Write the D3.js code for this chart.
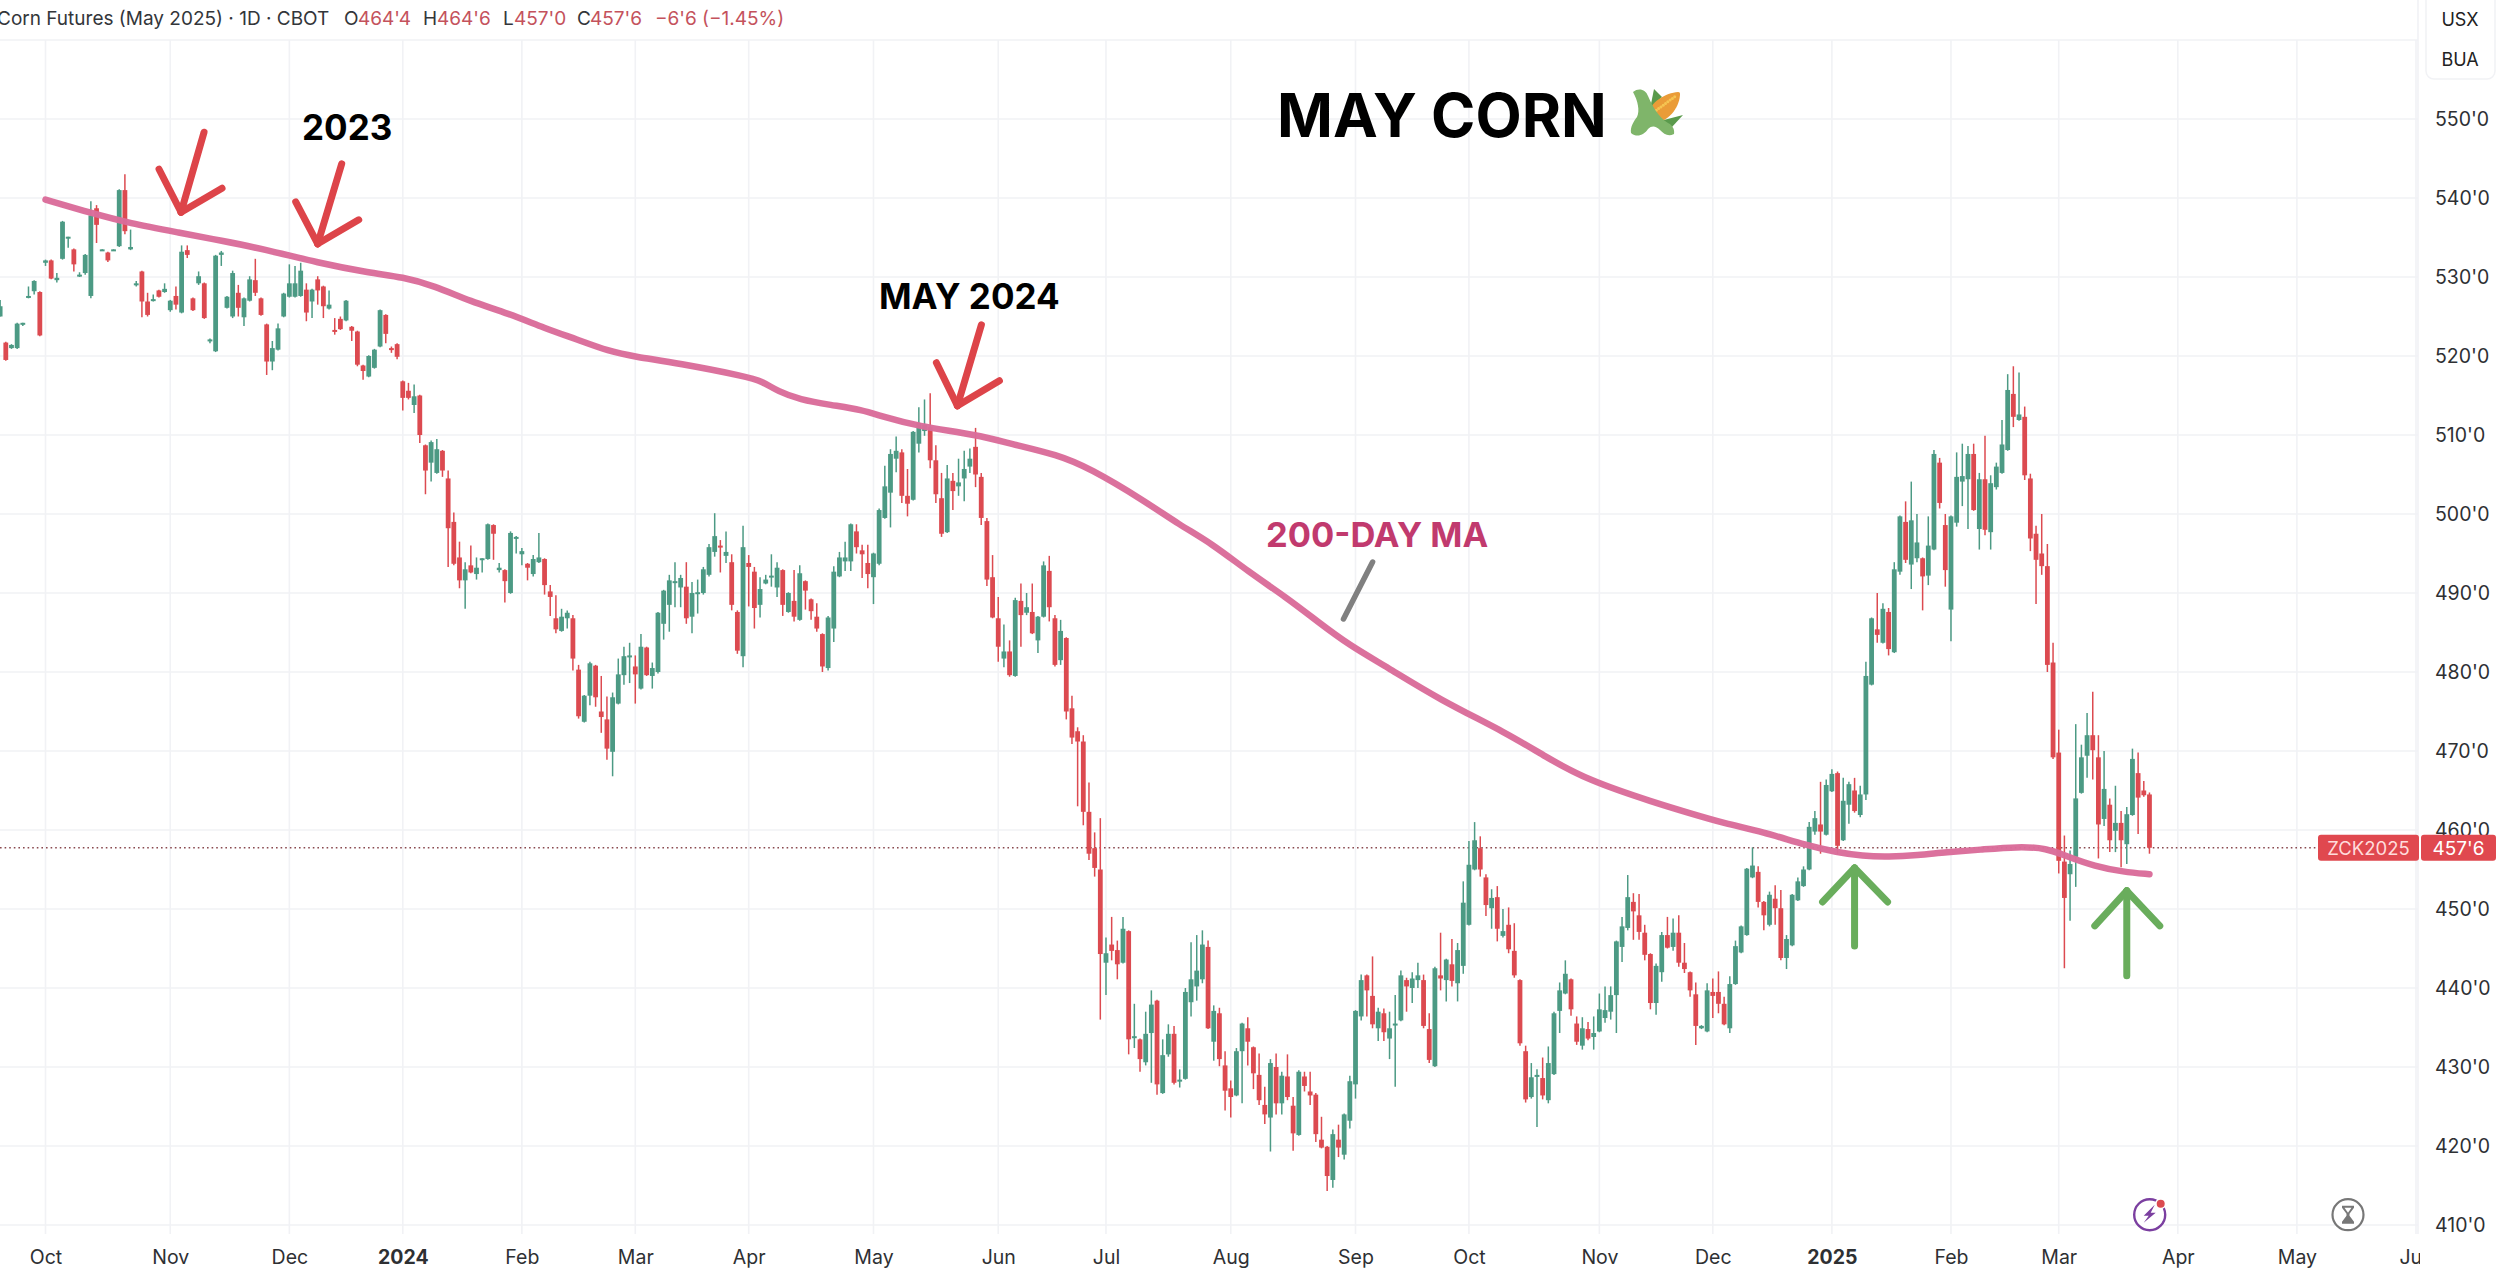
<!DOCTYPE html>
<html>
<head>
<meta charset="utf-8">
<script src="https://cdn.jsdelivr.net/npm/d3@7"></script>
<style>
  html, body { margin: 0; padding: 0; background: #fff; }
  svg { display: block; }
  text { font-family: Inter, "Noto Sans", sans-serif; }
</style>
</head>
<body>
<div id="chart"></div>
<script>
// Candles by month, each row is [open, high, low, close]
var sep23 = [[525,527.1,525,526.3],[521.7,521.8,519.4,519.5],[521,521.5,520.9,521.4],[521,524.2,520.9,524.1],[524,524.2,523.8,524.2],[527.4,528.8,527.3,527.6],[528.2,529.6,527.8,529.5],[528.1,528.2,522.5,522.6]];
var oct23 = [[531.8,532.2,531.4,532.1],[532.1,532.2,529.7,529.8],[529.6,530.5,529.3,529.9],[532.3,537.1,532.2,537],[534.9,535.1,533.7,535.1],[533.5,533.6,530.7,531.6],[530.1,530.6,530,530.3],[530.5,532.9,530.3,532.8],[527.6,539.6,527.3,537.8],[538.7,539.1,534.3,536.6],[533.4,533.5,533.3,533.5],[533.1,533.2,531.9,532.1],[533.4,533.5,533.3,533.5],[533.9,541.1,533.8,541],[541,543,535.4,535.8],[533.5,536,533.4,533.8],[529,529.5,528.8,529.2],[530.7,530.8,524.9,526.9],[526.9,528,525,525.2],[527,527.8,526.9,527.2],[528.3,528.4,527.4,527.5],[528.1,529.2,528,528.5]];
var nov23 = [[525.8,527.1,525.6,527],[527.6,528.8,525.9,526.5],[525.5,534,525.4,533.2],[533.4,534,532.4,532.8],[527.3,527.4,525.7,525.8],[529.2,530.7,529,530.1],[529.2,529.3,524.7,524.8],[522,522.2,521.6,522.1],[520.6,532.8,520.5,532.7],[532.8,533.3,531.4,533.1],[526.1,527.6,526,527.5],[525,530.8,524.8,530.5],[528,529,525,526.1],[524.9,527.4,523.8,527.3],[527,530.1,526.9,529.7],[529.6,532.3,527.6,528],[527.3,527.4,525.1,525.2],[524,524.1,517.6,519.3],[519.3,521.9,518.2,521],[520.8,524.1,520.7,523.5],[525,528,524.9,527.9]];
var dec23 = [[527.5,531.6,527.4,529.2],[527.5,531.4,527.4,529.2],[527.6,531.8,527.5,530.8],[528.4,529.2,524.4,525.5],[526.9,528.5,524.8,528.4],[529.7,530.1,526.5,528.3],[528.8,528.9,524.8,526.3],[526,528.3,525.9,526.5],[523.3,524.8,522.7,523.1],[524.7,525,523.3,523.4],[524.5,527.1,524.4,527],[523.7,523.8,521.9,523.2],[523.1,523.2,518.7,518.9],[518.8,518.9,517,518.1],[517.4,520.1,517.3,520],[518.5,520.9,518.4,520.8],[521.2,525.9,521.1,525.8],[525.2,525.3,521.6,522.8],[521,521.2,520.4,520.9],[521.5,521.6,519.6,519.9]];
var jan24 = [[516.8,516.9,513.1,514.7],[515.6,516.6,514.5,514.7],[513.8,516.4,512.8,514.9],[515,515.1,509,510],[508.7,508.8,502.5,505.5],[506.5,509.3,504.1,509.1],[505.2,509.5,505.1,508.2],[508,508.1,504.7,505.5],[504.5,505.5,493.3,498.2],[499,500.2,493.5,493.7],[494.5,496.5,490.6,491.6],[491.6,493.9,488,493],[493.5,496,492.5,492.6],[492.4,494.5,491.7,493.2],[494.2,494.4,492.6,494.4],[494.3,498.8,494.2,498.7],[498.6,498.7,494.2,497.5],[492.9,493.8,492.6,493.2],[492.9,493,488.8,491.5],[490,497.8,489.9,497.6],[497,497.2,495,497.1]];
var feb24 = [[494.9,495.7,493.5,495.3],[493.7,493.8,491.6,493.2],[492.4,494.8,492.1,494.3],[493.9,497.6,493.8,494.5],[494.3,494.4,489.8,491],[490.2,491,487.1,489.5],[486.8,489.7,484.9,485.4],[485.2,488,485.1,487],[486.8,487.8,485.5,487.5],[486.8,487.2,480.2,481.7],[480.3,480.9,474.1,474.4],[473.7,477.1,473.6,477],[477,481.3,475.8,481.1],[480.8,480.9,475.6,476.8],[475,479.5,472.3,474.3],[474,476.9,468.9,470.3],[469.9,477.4,466.8,476.8],[476,481.7,475.9,479.7],[479.6,483.2,478.4,482],[482,483.7,478.6,482.1]];
var mar24 = [[480.7,482.1,476,479.7],[477.9,484.8,477.8,483.2],[483.1,483.2,479.5,479.6],[479.5,481.2,477.9,480.5],[480,487.6,479.8,487.5],[486.1,490.4,484.1,490.3],[488.5,492.3,485.1,491.6],[491.4,493.9,488.2,491.5],[490.7,492.3,488.2,491.9],[490.8,493.9,486.1,486.8],[487,491.4,484.9,490],[490,491.7,487.4,490.1],[490,493.3,489.8,493],[492.3,496.2,492.1,495.8],[495.2,500.1,494.6,497.2],[496,496.7,492.6,495.8],[494.7,497.8,493.8,495.2],[493.9,494.9,487.8,488.5],[487.6,487.8,482.3,482.7],[482,498.5,480.6,495.8]];
var apr24 = [[493.8,494.8,488.3,493.3],[492.7,493.3,485.5,488.1],[488.5,492,486.9,490.5],[491.2,492.3,491.1,491.7],[492,494.9,490.8,492.2],[490.7,493.9,489.5,493.2],[492.9,493,487.1,488.5],[487.6,490.1,487.5,490],[489,492.9,486.4,487],[486.6,493.5,486.5,492.5],[491.5,491.6,487.9,490.3],[489.2,489.3,486.6,487.7],[487,488.7,485.1,485.5],[484.8,484.9,480,480.7],[480.5,487.1,480.2,486.9],[485.5,493.4,483.8,492.7],[492.1,495.2,492,494.5],[494,496.5,492.8,494.5],[494,498.8,492.8,498.7],[497.8,498.7,495,495.8],[495.4,496.1,491.9,494.9],[493.8,496.1,490.6,492.4]];
var may24 = [[492,495.1,488.6,495],[493.7,500.7,493.5,500.5],[499.5,506.1,499.4,503.5],[502.7,508.2,498.3,507.6],[507,509.8,505.3,508],[507.8,508.2,501.4,502.3],[502.3,505.7,499.7,501.3],[501.8,510.5,501.7,510.4],[508.9,513.5,507.8,511.5],[510.5,514.5,509.9,511.3],[511,515.3,505.8,506.8],[506.8,508.7,501.4,502.5],[502,505.2,497.1,497.5],[497.7,506.2,497.6,504.5],[504.2,505.2,500.5,502.9],[503.5,507,502.3,504],[504.5,508,501.6,505.7],[506,508.3,505.2,507],[508.5,510.9,503.4,505],[504.7,505.2,498.6,499.5],[499.1,499.5,490.9,491.7],[492,494.8,486.8,486.9]];
var jun24 = [[486.8,489.5,481.3,483.2],[481.7,486,480.6,482.6],[482.6,484,479.4,479.6],[479.5,489.4,479.4,489.1],[489,491.2,483.2,487.2],[487.5,490,487.2,488.2],[487.6,491.2,484.8,484.9],[484,487.1,482.4,487],[487,494,486.9,493.5],[492.8,494.7,486.4,488.2],[486.8,487.2,480.7,480.9],[481.5,486.6,480.9,485.2],[484.3,484.4,474,475],[475.4,477,470.9,471.7],[472.5,473,463,471.2],[471.2,472,460.6,462.3],[462.3,466,456.2,457],[457.7,459.7,454.1,455.2],[455,461.5,436,444.3]];
var jul24 = [[443.2,446.4,439.1,444.4],[445.5,449,443.5,444.7],[444.8,446,441.1,443],[443.2,449,443.1,447.5],[447.2,447.3,431.6,433.5],[433.7,438,432.4,433.9],[433.5,433.6,429.4,431],[430.6,437,430.2,434.2],[434.3,439.7,428,437.9],[438.4,438.5,426.5,427.8],[426.7,433.5,426.6,431.5],[431.6,435.4,431.3,434.2],[434.2,435.2,427.8,428],[428.2,429.7,427.4,428.4],[428.5,440,428.4,439.5],[438.2,445.8,436.4,441.1],[440.2,446.7,438.4,442.2],[441.1,447.3,440.6,445.5],[445.2,446,434.8,434.9],[433.2,437.8,430.8,437.1],[436.8,437.5,430.1,431],[430.2,432,424.5,427]];
var aug24 = [[427.3,428.3,423.6,426.2],[426.4,432.4,426.3,432],[432,435.6,425.4,435.5],[434.9,436.3,430.2,433.2],[432.5,432.6,427.2,429.2],[429,431.7,425.2,425.8],[425.2,427.5,422.8,424],[423.6,431,419.3,430.5],[430,431.7,424,425.4],[425.4,429.4,424,428.9],[428.8,431.6,425.8,426.2],[425.1,426.2,419.4,421.6],[421.4,429.6,421.3,429.4],[428.8,429.4,426.9,427.6],[426.9,429.4,425.2,426.4],[426.5,426.7,420.5,421.5],[420.8,423.7,419.7,419.8],[419.9,420,414.3,416.2],[415.7,422.1,414.7,421.5],[420.8,422.7,418.6,419.8],[418.9,424.1,418.3,424],[423.2,428.9,422.2,428.2]];
var sep24 = [[427.8,437.2,426,437.1],[436.4,441.7,435.9,441],[441.6,441.7,436.4,439.7],[439,444,434.9,435.4],[434.9,437.5,433.3,437],[436.8,437.4,433.3,434.4],[433.6,437,431,434.9],[435.3,439.1,427.5,435.5],[435.9,442.2,435.8,441.6],[441,441.3,437,440.2],[440,442,438.1,441.2],[441,443.2,440,441.6],[441,441.7,434.9,435.2],[434.8,436.8,430.5,430.9],[430.1,442.7,430,442.5],[441.6,447,439.7,441.2],[441,443.7,438.3,443.6],[443,446.2,440.2,440.9],[440.6,445.7,438.3,444.8],[442.8,453.5,441.8,450.8]];
var oct24 = [[448,458.6,447.9,455.6],[455,461,454.9,458.7],[457.7,459.2,454.1,455],[454,454.4,449.1,450.5],[450.1,452.5,447.5,451.4],[451.5,452.9,445.9,447.5],[446.6,450,446.4,447.2],[448,450.2,444.4,444.9],[444.7,448.2,441.3,441.6],[441,441.1,432.7,433],[432,432.7,425.5,425.9],[426.2,430.5,426,428.7],[428.8,429.7,422.4,429],[428.6,431.2,425.9,426.4],[425.8,432.6,425.4,430.5],[429.1,437,429,436.8],[437.1,440.7,434.3,439.7],[439.3,443.5,439.2,441.8],[441.1,441.2,436.5,437.3],[435.5,436.4,432.8,433.2],[432.7,436.3,432.2,434.9],[434.8,435.7,433.4,433.6],[433.8,436.4,432.2,434.3]];
var nov24 = [[434.5,439.3,434.4,437.3],[436.2,440.2,435.6,437.2],[437,440.2,436,439.1],[439.1,446,434.3,445.9],[445.2,449,443.3,447.8],[447.6,454.3,447.3,451.5],[450.9,452,446.1,449.7],[449.2,451.9,446.1,447.1],[447,448,443.5,444.2],[444.3,444.4,437.3,438.1],[438.1,443.1,436.6,442.8],[442,447.1,440.8,446.7],[446.7,449,445,445.1],[445.2,448.8,444.7,447],[447,449.2,442.7,443.2],[443.2,445.7,441.9,442.4],[442,442.1,438.9,439.7],[439.2,440.7,432.8,435.2],[434.9,435.3,434.8,435.2],[434.5,440.6,434.4,439.7]];
var dec24 = [[439.5,441.2,436.2,439],[439.5,442.1,436.8,438],[438,438.9,435.3,435.4],[434.9,441.5,434.3,440.5],[440.5,446,440.4,445.3],[444.5,447.9,444.4,447.8],[446.7,455.2,446.6,455.1],[454,457.8,453.9,455.5],[454.7,455.4,450.2,450.9],[450.9,451,447.3,449.2],[448,452.2,447.8,451.8],[451.3,453,448,450.1],[450.1,452.4,443.5,443.8],[443.8,446.7,442.4,446.2],[445.4,451.9,445.3,451.8],[451.1,454,451,453.5],[452.9,455.4,452.8,455],[455,461,454.9,460.4],[459.8,462.4,459.4,461.5],[460.7,466.1,457,459.8],[459.4,466.4,459.3,465.7]];
var jan25 = [[464.9,467.7,464.8,467.1],[467.2,467.4,456.9,458],[458.7,466.6,458.6,463.7],[463.2,466.1,460.8,465.8],[465,466.6,462.2,462.4],[461.9,465.6,461.6,464.5],[464.5,481.3,463.8,479.5],[478.4,486.9,478.3,486.8],[485.4,490,483.7,484.7],[483.7,488.7,483.6,488],[487.6,488.1,482.1,482.9],[482.5,493.9,482.4,493],[492.7,499.8,492.3,499.7],[499,501.6,493.8,494.2],[493.6,504.1,490.5,499.2],[494.4,500,493.9,496.4],[494.4,494.5,487.8,492.1],[492.2,499.7,491,496],[495.5,508.1,495.4,507.6],[506.5,507.1,500.7,501.4],[498.6,500,490.8,492.9]];
var feb25 = [[487.9,499.8,483.9,499.7],[498.9,507.8,498.4,504.7],[504.1,508.9,501,504.8],[504.4,508.6,498.1,507.6],[507.6,508.9,500.4,500.5],[498.1,505.2,495.5,504.4],[504.4,509.9,497.3,498],[497.7,504.9,495.5,503.9],[503.4,506.5,503.1,506],[505.2,511.9,505.1,508.8],[508.1,517.7,508,515.7],[515.2,518.7,511,512.3],[511.9,517.9,511.8,512.6],[512.3,513.6,504.3,504.9],[504.5,505.1,495.3,496.9],[497.5,498.5,488.6,494.2],[495,500,492.3,493.4],[493.4,496.2,480,480.9],[481.2,483.7,469,469.2]];
var mar25 = [[469.8,472.7,454.5,456.1],[456,459.3,442.5,451.4],[454.4,457.4,448.5,455.7],[456.6,473.4,452.8,464],[464.7,470.8,464.6,469.2],[469.4,474.8,466.6,472],[472,477.5,466.4,470.1],[469.2,472,456.4,460.7],[461.4,470,460.5,465.2],[463.2,464,457.2,458.7],[459.9,465.6,457.2,460.9],[460.9,462.4,455.3,458.7],[458.2,462.9,455.7,462],[461.9,470.3,461.8,469],[467.2,469.8,459.5,464.1],[465,466.2,464.2,464.4],[464.5,464.75,457,457.75]];

// Trading sessions in each labelled month, Oct 2023 to May 2025, then the Jun label
var barMonths = [oct23, nov23, dec23, jan24, feb24, mar24, apr24, may24, jun24, jul24, aug24, sep24, oct24, nov24, dec24, jan25, feb25, mar25];
var sessionsPerMonth = [22, 21, 20, 21, 20, 20, 22, 22, 19, 22, 22, 20, 23, 20, 21, 21, 19, 21, 21, 21];
var monthLabels = ['Oct', 'Nov', 'Dec', '2024', 'Feb', 'Mar', 'Apr', 'May', 'Jun', 'Jul', 'Aug', 'Sep', 'Oct', 'Nov', 'Dec', '2025', 'Feb', 'Mar', 'Apr', 'May', 'Jun'];

// 200-day moving average, session number and value
var maIndex = [0,8,14.8,23.7,31,38.7,48,57.3,63,68.5,75,81.6,88.1,93.7,99.3,104,111.5,123.6,126.4,129.2,133,138.4,144,147.7,153.8,164.5,170.1,178.5,184.1,193.5,200,205.6,212.1,218.7,224.3,229.9,236.4,245.8,257.9,264.4,271.9,284,289.6,296.2,302.7,310.7,315.8,320.4,325,330.1,335.2,341.1,347.8,352.9,356.3,361.4,366.4,371];
var maValue = [539.8,538.1,536.8,535.6,534.6,533.5,531.8,530.5,530,528.9,526.9,525.4,523.5,522.1,520.6,519.9,519.1,517.4,516.8,515.5,514.5,513.8,513.2,512.3,511.1,510,508.9,507.5,505.8,501.8,498.6,496.3,492.7,489.5,486.4,483.4,480.7,476.5,472.2,469.3,466.3,463.4,462.2,460.8,459.8,458,457.2,456.7,456.6,456.8,457.2,457.5,457.9,457.7,456.7,455.4,454.7,454.4];

var priceTicks = d3.range(410, 570, 10);
var lastPrice = 457.75;

// Arrow tips sit on the chart as [session, price]
var redArrowTips = [[23.9, 538.2], [48, 534.2], [160.8, 513.7]];
var greenArrowTips = [[319, 455.2], [367, 452.3]];

var width = 2500, height = 1269;
var plotRight = 2418, plotTop = 40, plotBottom = 1234;

var svg = d3.select('#chart').append('svg')
    .attr('width', width)
    .attr('height', height)
    .style('background', '#fff');

// Session 0 is the first session of Oct 2023, the Sep rows come before it
var monthStarts = [0];
sessionsPerMonth.forEach(function (n, i) { monthStarts.push(monthStarts[i] + n); });

var candles = [];
sep23.forEach(function (d, i) { candles.push({ i: i - sep23.length, o: d[0], h: d[1], l: d[2], c: d[3] }); });
barMonths.forEach(function (m, k) {
    m.forEach(function (d, i) {
        candles.push({ i: monthStarts[k] + i, o: d[0], h: d[1], l: d[2], c: d[3] });
    });
});

var x = d3.scaleLinear().domain([0, monthStarts[monthStarts.length - 1]]).range([45.5, 2416]);
var y = d3.scaleLinear().domain([410, 550]).range([1225, 119]);

var defs = svg.append('defs');
defs.append('clipPath').attr('id', 'xclip').append('rect')
    .attr('x', 0).attr('y', plotBottom).attr('width', 2420).attr('height', 35);

// Grid
var grid = svg.append('g').attr('stroke', '#f1f2f5').attr('stroke-width', 1.6);
grid.selectAll('line.h').data(priceTicks).enter().append('line')
    .attr('x1', 0).attr('x2', plotRight)
    .attr('y1', function (d) { return y(d); }).attr('y2', function (d) { return y(d); });
grid.selectAll('line.v').data(monthStarts).enter().append('line')
    .attr('y1', plotTop).attr('y2', plotBottom)
    .attr('x1', function (d) { return x(d); }).attr('x2', function (d) { return x(d); });
svg.append('line')
    .attr('x1', plotRight).attr('x2', plotRight).attr('y1', 0).attr('y2', plotBottom)
    .attr('stroke', '#f1f2f5').attr('stroke-width', 1.6);

// Price axis
var yAxis = svg.append('g')
    .attr('transform', 'translate(2435,0)')
    .call(d3.axisRight(y).tickValues(d3.range(410, 560, 10)).tickSize(0).tickPadding(0)
        .tickFormat(function (d) { return d + "'0"; }));
yAxis.select('.domain').remove();
yAxis.selectAll('text').style('font', '19.5px Inter').attr('fill', '#2e3033');

// Time axis
var xAxis = svg.append('g')
    .attr('clip-path', 'url(#xclip)')
    .append('g')
    .attr('transform', 'translate(0,1234)')
    .call(d3.axisBottom(x).tickValues(monthStarts).tickSize(0).tickPadding(16)
        .tickFormat(function (d, i) { return monthLabels[i]; }));
xAxis.select('.domain').remove();
xAxis.selectAll('text')
    .style('font', function (d, i) { return (/^20/.test(monthLabels[i]) ? '700 ' : '') + '19.5px Inter'; })
    .attr('fill', '#2e3033');

// Last price line
svg.append('line')
    .attr('x1', 0).attr('x2', plotRight)
    .attr('y1', y(lastPrice)).attr('y2', y(lastPrice))
    .attr('stroke', '#8a4a50').attr('stroke-width', 1.6).attr('stroke-dasharray', '1.6 3');

// Candles
var green = '#4c9a84', red = '#dc4a50';
function candleColor(d) { return d.c >= d.o ? green : red; }
var bars = svg.append('g');
bars.selectAll('line').data(candles).enter().append('line')
    .attr('x1', function (d) { return x(d.i); }).attr('x2', function (d) { return x(d.i); })
    .attr('y1', function (d) { return y(d.h); }).attr('y2', function (d) { return y(d.l); })
    .attr('stroke', candleColor).attr('stroke-width', 1.5);
bars.selectAll('rect').data(candles).enter().append('rect')
    .attr('x', function (d) { return x(d.i) - 2.4; })
    .attr('width', 4.8)
    .attr('y', function (d) { return y(Math.max(d.o, d.c)); })
    .attr('height', function (d) { return Math.max(2, Math.abs(y(d.o) - y(d.c))); })
    .attr('fill', candleColor);

// 200-day MA
var maLine = d3.line()
    .x(function (d, i) { return x(maIndex[i]); })
    .y(function (d) { return y(d); })
    .curve(d3.curveBasis);
svg.append('path')
    .attr('d', maLine(maValue))
    .attr('fill', 'none')
    .attr('stroke', '#da6c9a')
    .attr('stroke-width', 6.5)
    .attr('stroke-linecap', 'round')
    .attr('opacity', 0.97);

// Hand drawn arrows, offsets in pixels from the tip
function drawArrow(tip, color, pts) {
    var tx = x(tip[0]), ty = y(tip[1]);
    var g = svg.append('g')
        .attr('fill', 'none').attr('stroke', color)
        .attr('stroke-width', 7).attr('stroke-linecap', 'round').attr('stroke-linejoin', 'round');
    pts.forEach(function (p) {
        g.append('line').attr('x1', tx + p[0]).attr('y1', ty + p[1]).attr('x2', tx).attr('y2', ty);
    });
}
var redShapes = [
    [[23, -80], [-22, -43], [41, -24]],
    [[24, -80], [-22, -42], [41, -24]],
    [[24, -81], [-21, -43], [42, -25]]
];
redArrowTips.forEach(function (t, i) { drawArrow(t, '#dd4449', redShapes[i]); });
var greenShapes = [
    [[0, 78], [-32, 34], [33, 34]],
    [[0, 85], [-32, 35], [33, 35]]
];
greenArrowTips.forEach(function (t, i) { drawArrow(t, '#69ad5c', greenShapes[i]); });

// Pointer from the MA label to the line
svg.append('line')
    .attr('x1', 1372.6).attr('y1', 562).attr('x2', 1343.5).attr('y2', 619)
    .attr('stroke', '#808080').attr('stroke-width', 5.5).attr('stroke-linecap', 'round');

// Annotations
function label(str, px, py, size, color) {
    return svg.append('text').attr('x', px).attr('y', py)
        .attr('font-size', size).attr('font-weight', 700).attr('fill', color).text(str);
}
label('MAY CORN', 1277, 137, 60, '#000');
label('2023', 302, 140, 35, '#000');
label('MAY 2024', 879, 309, 35, '#000');
label('200-DAY MA', 1266, 547, 34.5, '#c13a6e');

// Corn emoji drawn by hand
var corn = svg.append('g').attr('transform', 'translate(1630,87)');
corn.append('path').attr('d', 'M20 22 L24 2 L32 10 Z').attr('fill', '#5a9a4c');
corn.append('path').attr('d', 'M30 34 L53 28 L42 40 Z').attr('fill', '#5a9a4c');
corn.append('path').attr('d', 'M17 30 C20 14 36 6 48 5 C50 5 50 6 50 8 C49 22 38 34 24 37 Z').attr('fill', '#ea9c38');
corn.selectAll('circle').data(d3.range(10)).enter().append('circle')
    .attr('cx', function (d) { return 24 + d * 2.3; })
    .attr('cy', function (d) { return 25 - d * 1.7; })
    .attr('r', 1.5).attr('fill', '#f6c552');
corn.append('path')
    .attr('d', 'M3 5 C9 0 16 3 18 9 C22 18 28 30 38 36 C42 38 45 42 44 47 C38 50 34 47 30 43 C26 39 22 38 18 42 C14 48 7 51 1 46 C0 40 4 34 7 30 C10 24 8 14 3 5 Z')
    .attr('fill', '#7fb56a');

// Header line
var headerDark = '#33363a', headerRed = '#c4525c';
var headerParts = [
    ['Corn Futures (May 2025) · 1D · CBOT', -3, headerDark],
    ['O', 344, headerDark], ["464'4", 358, headerRed],
    ['H', 423, headerDark], ["464'6", 437, headerRed],
    ['L', 503, headerDark], ["457'0", 514, headerRed],
    ['C', 577, headerDark], ["457'6", 590, headerRed],
    ["−6'6", 655, headerRed], ['(−1.45%)', 702, headerRed]
];
svg.selectAll('text.header').data(headerParts).enter().append('text')
    .attr('class', 'header')
    .attr('x', function (d) { return d[1]; })
    .attr('y', 25)
    .attr('font-size', 19)
    .attr('fill', function (d) { return d[2]; })
    .text(function (d) { return d[0]; });

// Currency and unit box
svg.append('rect').attr('x', 2426).attr('y', -8).attr('width', 69).attr('height', 87).attr('rx', 8)
    .attr('fill', '#fff').attr('stroke', '#f1f2f5').attr('stroke-width', 1.5);
svg.append('text').attr('x', 2460).attr('y', 26).attr('text-anchor', 'middle')
    .attr('font-size', 18).attr('fill', '#222').text('USX');
svg.append('text').attr('x', 2460).attr('y', 66).attr('text-anchor', 'middle')
    .attr('font-size', 18).attr('fill', '#222').text('BUA');

// Last price tag
var tagY = y(lastPrice);
svg.append('rect').attr('x', 2318).attr('y', tagY - 13).attr('width', 101).attr('height', 26).attr('rx', 3).attr('fill', '#e0484f');
svg.append('rect').attr('x', 2421).attr('y', tagY - 13).attr('width', 75).attr('height', 26).attr('rx', 3).attr('fill', '#e0484f');
svg.append('text').attr('x', 2368.5).attr('y', tagY + 7).attr('text-anchor', 'middle')
    .attr('font-size', 18.5).attr('fill', '#ffdcdc').text('ZCK2025');
svg.append('text').attr('x', 2458.5).attr('y', tagY + 7).attr('text-anchor', 'middle')
    .attr('font-size', 19).attr('fill', '#fff').text("457'6");

// Bottom icons
var bolt = svg.append('g').attr('transform', 'translate(2149.7,1214.7)');
bolt.append('circle').attr('r', 15.5).attr('fill', '#fff').attr('stroke', '#7b3fa0').attr('stroke-width', 2.4);
bolt.append('path').attr('d', 'M5 -10 L-6 1 L-1 1 L-6 8 L6 -2 L1 -2 Z').attr('fill', '#7b3fa0');
bolt.append('circle').attr('cx', 11).attr('cy', -11).attr('r', 5.5).attr('fill', '#fff');
bolt.append('circle').attr('cx', 11).attr('cy', -11).attr('r', 4).attr('fill', '#dc4a50');
var glass = svg.append('g').attr('transform', 'translate(2348,1214.7)');
glass.append('circle').attr('r', 15.5).attr('fill', '#fff').attr('stroke', '#777').attr('stroke-width', 2.2);
glass.append('path').attr('d', 'M-6 -9 L6 -9 L6 -7 L1.5 -1 L1.5 1 L6 7 L6 9 L-6 9 L-6 7 L-1.5 1 L-1.5 -1 L-6 -7 Z').attr('fill', '#777');
glass.append('path').attr('d', 'M-3.5 -7 L3.5 -7 L0 -2 Z').attr('fill', '#fff');
</script>
</body>
</html>
